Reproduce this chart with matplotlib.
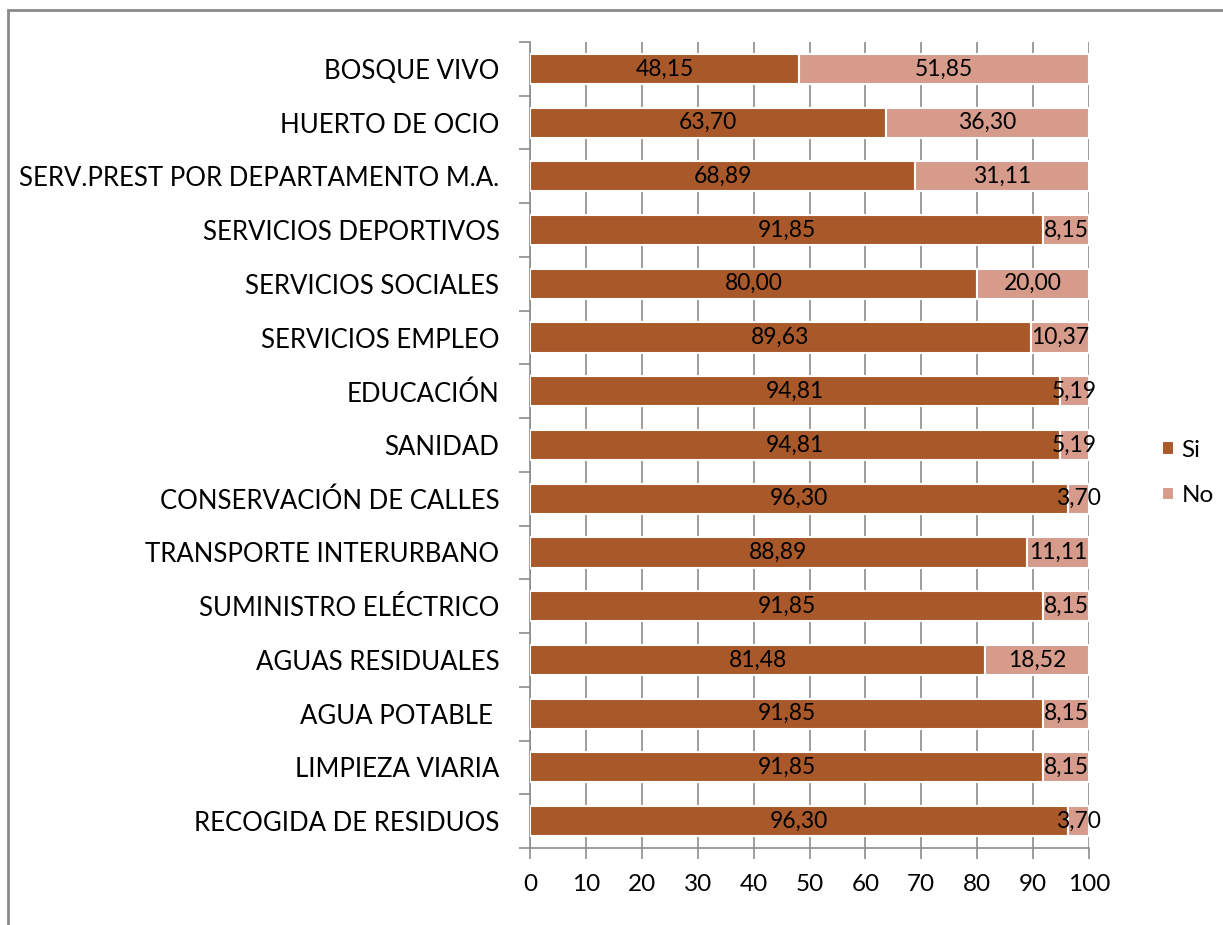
import matplotlib.pyplot as plt
import matplotlib.patches as mpatches
import numpy as np

plt.rcParams['font.family'] = ['Lato', 'DejaVu Sans']

categorias = ['RECOGIDA DE RESIDUOS', 'LIMPIEZA VIARIA', 'AGUA POTABLE ',
              'AGUAS RESIDUALES', 'SUMINISTRO ELÉCTRICO', 'TRANSPORTE INTERURBANO',
              'CONSERVACIÓN DE CALLES', 'SANIDAD', 'EDUCACIÓN', 'SERVICIOS EMPLEO',
              'SERVICIOS SOCIALES', 'SERVICIOS DEPORTIVOS',
              'SERV.PREST POR DEPARTAMENTO M.A.', 'HUERTO DE OCIO', 'BOSQUE VIVO']
si = [96.30, 91.85, 91.85, 81.48, 91.85, 88.89, 96.30, 94.81, 94.81, 89.63,
      80.00, 91.85, 68.89, 63.70, 48.15]
no = [3.70, 8.15, 8.15, 18.52, 8.15, 11.11, 3.70, 5.19, 5.19, 10.37,
      20.00, 8.15, 31.11, 36.30, 51.85]

col_si = '#A9582A'
col_no = '#D69B8A'
gris = '#8C8C8C'

fig = plt.figure(figsize=(12.23, 9.25), dpi=100)
# marco exterior
fig.patches.append(mpatches.Rectangle((8 / 1223, -0.1), 1.2, 1 - 10 / 925 + 0.1,
                                      transform=fig.transFigure, fill=False,
                                      edgecolor='#8A8A8A', linewidth=2))

ax = fig.add_axes([530 / 1223, 1 - 848 / 925, 559 / 1223, 806 / 925])

y = np.arange(len(categorias))
b1 = ax.barh(y, si, height=0.56, color=col_si, edgecolor='white', linewidth=1.5,
             label='Si', zorder=3)
b2 = ax.barh(y, no, left=si, height=0.56, color=col_no, edgecolor='white',
             linewidth=1.5, label='No', zorder=3)

fmt = lambda v: f'{v:.2f}'.replace('.', ',')
ax.bar_label(b1, labels=[fmt(v) for v in si], label_type='center', fontsize=16.5,
             color='black', zorder=4)
ax.bar_label(b2, labels=[fmt(v) for v in no], label_type='center', fontsize=16.5,
             color='black', zorder=4)

ax.set_xlim(0, 100)
ax.set_ylim(-0.5, len(categorias) - 0.5)
ax.set_xticks(np.arange(0, 101, 10))
ax.set_yticks(y)
ax.set_yticklabels(categorias, fontsize=18.5)
ax.set_yticks(np.arange(-0.5, len(categorias), 1), minor=True)
ax.tick_params(axis='y', which='major', length=0, pad=22)
ax.tick_params(axis='y', which='minor', length=8, color=gris, width=1.2)
ax.tick_params(axis='x', length=8, color=gris, width=1.2, labelsize=17.5, pad=11)

ax.grid(axis='x', color=gris, linewidth=1.2, zorder=0)
for s in ['top', 'right']:
    ax.spines[s].set_visible(False)
for s in ['left', 'bottom']:
    ax.spines[s].set_color(gris)
    ax.spines[s].set_linewidth(1.2)

leg = fig.legend(handles=[b1, b2], labels=['Si', 'No'], loc='center left',
                 bbox_to_anchor=(1140 / 1223, 1 - 473 / 925), frameon=False,
                 fontsize=17.5, handlelength=0.5, handleheight=0.5,
                 handletextpad=0.3, labelspacing=1.0)

fig.savefig('out.png', dpi=100)
